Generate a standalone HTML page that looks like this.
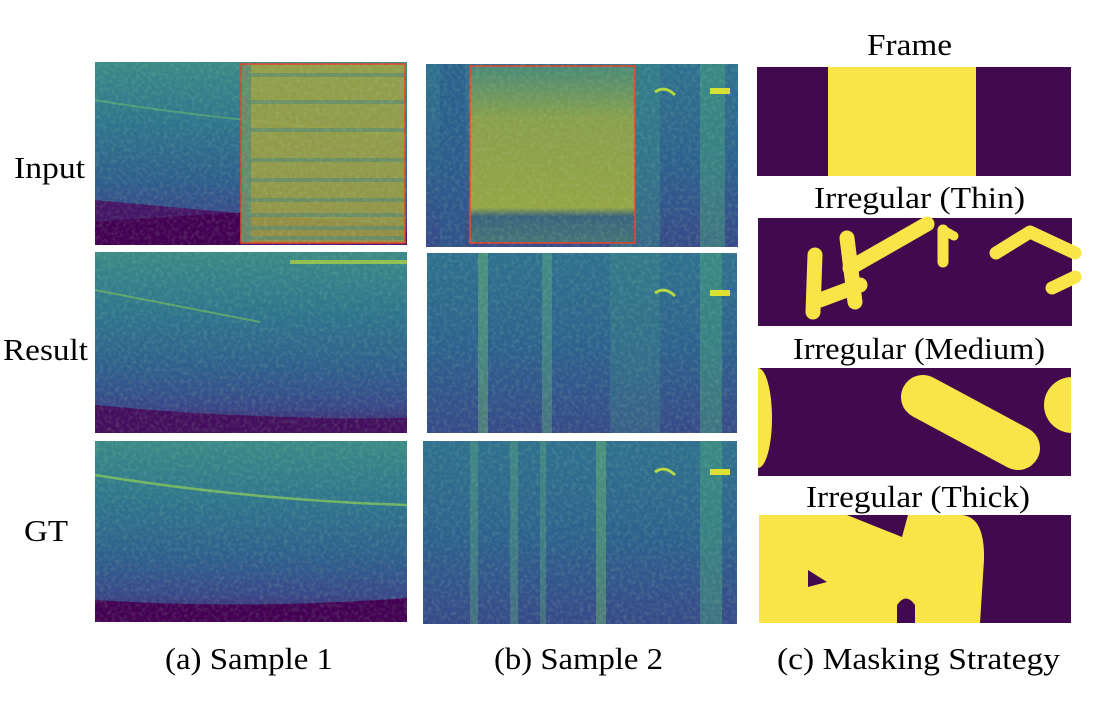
<!DOCTYPE html>
<html><head><meta charset="utf-8"><style>
html,body{margin:0;padding:0;background:#fff;}
svg{display:block;}
text{font-family:"Liberation Serif",serif;fill:#000;}
</style></head><body>
<svg width="1111" height="719" viewBox="0 0 1111 719" xmlns="http://www.w3.org/2000/svg">
<defs>
<linearGradient id="s1" x1="0" y1="0" x2="0" y2="1">
<stop offset="0" stop-color="#3b8a88"/><stop offset="0.35" stop-color="#2f748d"/>
<stop offset="0.65" stop-color="#2f5f8d"/><stop offset="0.85" stop-color="#39498a"/><stop offset="1" stop-color="#42206b"/>
</linearGradient>
<linearGradient id="s2" x1="0" y1="0" x2="0" y2="1">
<stop offset="0" stop-color="#2f718e"/><stop offset="0.5" stop-color="#2d638e"/><stop offset="1" stop-color="#374a89"/>
</linearGradient>
<linearGradient id="box2" x1="0" y1="0" x2="0" y2="1">
<stop offset="0" stop-color="#4a8a78"/><stop offset="0.3" stop-color="#8aa04c"/><stop offset="0.8" stop-color="#95a546"/><stop offset="0.85" stop-color="#3a637c"/><stop offset="1" stop-color="#457478"/>
</linearGradient>
<filter id="nz" x="0" y="0" width="1" height="1">
<feTurbulence type="fractalNoise" baseFrequency="0.25" numOctaves="2" seed="3"/>
<feColorMatrix values="0 0 0 0 0.45  0 0 0 0 0.75  0 0 0 0 0.45  0 0 0 1.2 -0.5"/>
<feComposite in2="SourceGraphic" operator="in"/>
</filter>
</defs>

<!-- Sample 1 -->
<g>
<rect x="95" y="62" width="312" height="183" fill="url(#s1)"/>
<path d="M95 200 Q250 215 407 226 L407 245 L95 245Z" fill="#451666"/>
<path d="M95 222 Q200 214 240 213 L240 245 L95 245Z" fill="#440154"/>
<path d="M95 100 Q200 118 407 135" stroke="#6fc06a" stroke-width="2" fill="none" opacity="0.5"/>
<rect x="241" y="64" width="164" height="179" fill="#a3a340" opacity="0.85"/>
<g stroke="#5e8b70" stroke-width="4" opacity="0.7">
<line x1="245" y1="75" x2="405" y2="75"/><line x1="245" y1="102" x2="405" y2="102"/><line x1="245" y1="130" x2="405" y2="130"/>
<line x1="245" y1="160" x2="405" y2="160"/><line x1="245" y1="180" x2="405" y2="180"/><line x1="245" y1="200" x2="405" y2="200"/>
<line x1="245" y1="215" x2="405" y2="215"/><line x1="245" y1="228" x2="405" y2="228"/><line x1="245" y1="238" x2="405" y2="238"/>
</g>
<rect x="241" y="64" width="10" height="179" fill="#5a8a72" opacity="0.8"/>
<rect x="241" y="64" width="164" height="179" fill="none" stroke="#e8402a" stroke-width="1.5"/>
<rect x="95" y="62" width="312" height="183" fill="#fff" filter="url(#nz)" opacity="0.3"/>
</g>
<g>
<rect x="95" y="252" width="312" height="181" fill="url(#s1)"/>
<path d="M95 405 Q250 420 407 418 L407 433 L95 433Z" fill="#440f5e"/>
<path d="M290 262 L407 262" stroke="#b8d83a" stroke-width="4" opacity="0.7"/>
<path d="M95 290 Q200 310 260 322" stroke="#7cc35a" stroke-width="2" fill="none" opacity="0.6"/>
<rect x="95" y="252" width="312" height="181" fill="#fff" filter="url(#nz)" opacity="0.3"/>
</g>
<g>
<rect x="95" y="441" width="312" height="181" fill="url(#s1)"/>
<path d="M95 600 Q250 610 407 598 L407 622 L95 622Z" fill="#440154"/>
<path d="M95 475 Q250 500 407 505" stroke="#8cd055" stroke-width="2.5" fill="none" opacity="0.7"/>
<rect x="95" y="441" width="312" height="181" fill="#fff" filter="url(#nz)" opacity="0.3"/>
</g>

<!-- Sample 2 -->
<g>
<rect x="426" y="64" width="312" height="183" fill="url(#s2)"/>
<rect x="610" y="64" width="50" height="183" fill="#3a8c88" opacity="0.45"/>
<rect x="700" y="64" width="25" height="183" fill="#4aa77a" opacity="0.45"/>
<rect x="440" y="64" width="25" height="183" fill="#2c5a8c" opacity="0.6"/>
<rect x="470" y="66" width="165" height="177" fill="url(#box2)"/>
<rect x="470" y="66" width="165" height="177" fill="none" stroke="#e8402a" stroke-width="1.5"/>
<path d="M655 92 Q665 85 675 95" stroke="#b5d840" stroke-width="3" fill="none"/>
<rect x="710" y="88" width="20" height="6" fill="#d8e030"/>
<rect x="426" y="64" width="312" height="183" fill="#fff" filter="url(#nz)" opacity="0.3"/>
</g>
<g>
<rect x="427" y="253" width="310" height="180" fill="url(#s2)"/>
<rect x="478" y="253" width="10" height="180" fill="#6cb86a" opacity="0.45"/>
<rect x="542" y="253" width="10" height="180" fill="#5aa878" opacity="0.45"/>
<rect x="610" y="253" width="50" height="180" fill="#3b8a88" opacity="0.35"/>
<rect x="700" y="253" width="22" height="180" fill="#4aa77a" opacity="0.45"/>
<path d="M655 293 Q665 286 675 296" stroke="#b5d840" stroke-width="3" fill="none"/>
<rect x="710" y="290" width="20" height="6" fill="#e0e030"/>
<rect x="427" y="253" width="310" height="180" fill="#fff" filter="url(#nz)" opacity="0.3"/>
</g>
<g>
<rect x="423" y="441" width="314" height="183" fill="url(#s2)"/>
<rect x="470" y="441" width="8" height="183" fill="#5aa878" opacity="0.4"/>
<rect x="510" y="441" width="8" height="183" fill="#5aa878" opacity="0.4"/>
<rect x="540" y="441" width="6" height="183" fill="#5aa878" opacity="0.4"/>
<rect x="596" y="441" width="10" height="183" fill="#6cb86a" opacity="0.45"/>
<rect x="700" y="441" width="22" height="183" fill="#4aa77a" opacity="0.45"/>
<path d="M655 472 Q665 465 675 475" stroke="#b5d840" stroke-width="3" fill="none"/>
<rect x="710" y="469" width="20" height="6" fill="#e0e030"/>
<rect x="423" y="441" width="314" height="183" fill="#fff" filter="url(#nz)" opacity="0.3"/>
</g>

<!-- Masks -->
<rect x="757" y="67" width="314" height="109" fill="#410a4e"/>
<rect x="828" y="67" width="148" height="109" fill="#f9e547"/>

<rect x="758" y="218" width="314" height="108" fill="#410a4e"/>
<g stroke="#f9e547" stroke-linecap="round" fill="none" stroke-width="15">
<line x1="815" y1="255" x2="813" y2="312"/>
<line x1="847" y1="238" x2="855" y2="302"/>
<line x1="850" y1="268" x2="927" y2="224"/>
<line x1="820" y1="300" x2="860" y2="285"/>
<line x1="943" y1="230" x2="943" y2="262" stroke-width="11"/>
<line x1="943" y1="230" x2="954" y2="236" stroke-width="9"/>
<polyline points="996,253 1030,232 1075,253" stroke-width="13" stroke-linejoin="round"/>
<line x1="1052" y1="288" x2="1075" y2="277" stroke-width="13"/>
</g>

<rect x="758" y="368" width="313" height="108" fill="#410a4e"/>
<line x1="923" y1="397" x2="1018" y2="448" stroke="#f9e547" stroke-width="44" stroke-linecap="round"/>
<ellipse cx="758" cy="418" rx="14" ry="50" fill="#f9e547"/>
<circle cx="1072" cy="405" r="28" fill="#f9e547"/>
<rect x="1071" y="360" width="40" height="120" fill="#fff"/>
<rect x="740" y="360" width="18" height="120" fill="#fff"/>

<rect x="759" y="515" width="312" height="108" fill="#410a4e"/>
<path d="M759 515 L847 515 L902 537 L908 515 L960 515 Q985 515 984 560 L980 623 L759 623Z" fill="#f9e547"/>
<polygon points="808,570 827,582 808,587" fill="#410a4e"/>
<path d="M897 623 L897 605 Q906 592 915 605 L915 623Z" fill="#410a4e"/>

<!-- Labels -->
<g font-size="31">
<text x="14" y="178" textLength="71" lengthAdjust="spacingAndGlyphs">Input</text>
<text x="3" y="360" textLength="85" lengthAdjust="spacingAndGlyphs">Result</text>
<text x="24" y="541" textLength="44" lengthAdjust="spacingAndGlyphs">GT</text>
<text x="867" y="55" textLength="85" lengthAdjust="spacingAndGlyphs">Frame</text>
<text x="814" y="208" textLength="211" lengthAdjust="spacingAndGlyphs">Irregular (Thin)</text>
<text x="793" y="359" textLength="252" lengthAdjust="spacingAndGlyphs">Irregular (Medium)</text>
<text x="806" y="507" textLength="224" lengthAdjust="spacingAndGlyphs">Irregular (Thick)</text>
<text x="165" y="669" textLength="168" lengthAdjust="spacingAndGlyphs">(a) Sample 1</text>
<text x="494" y="669" textLength="169" lengthAdjust="spacingAndGlyphs">(b) Sample 2</text>
<text x="777" y="669" textLength="283" lengthAdjust="spacingAndGlyphs">(c) Masking Strategy</text>
</g>
</svg>
</body></html>
